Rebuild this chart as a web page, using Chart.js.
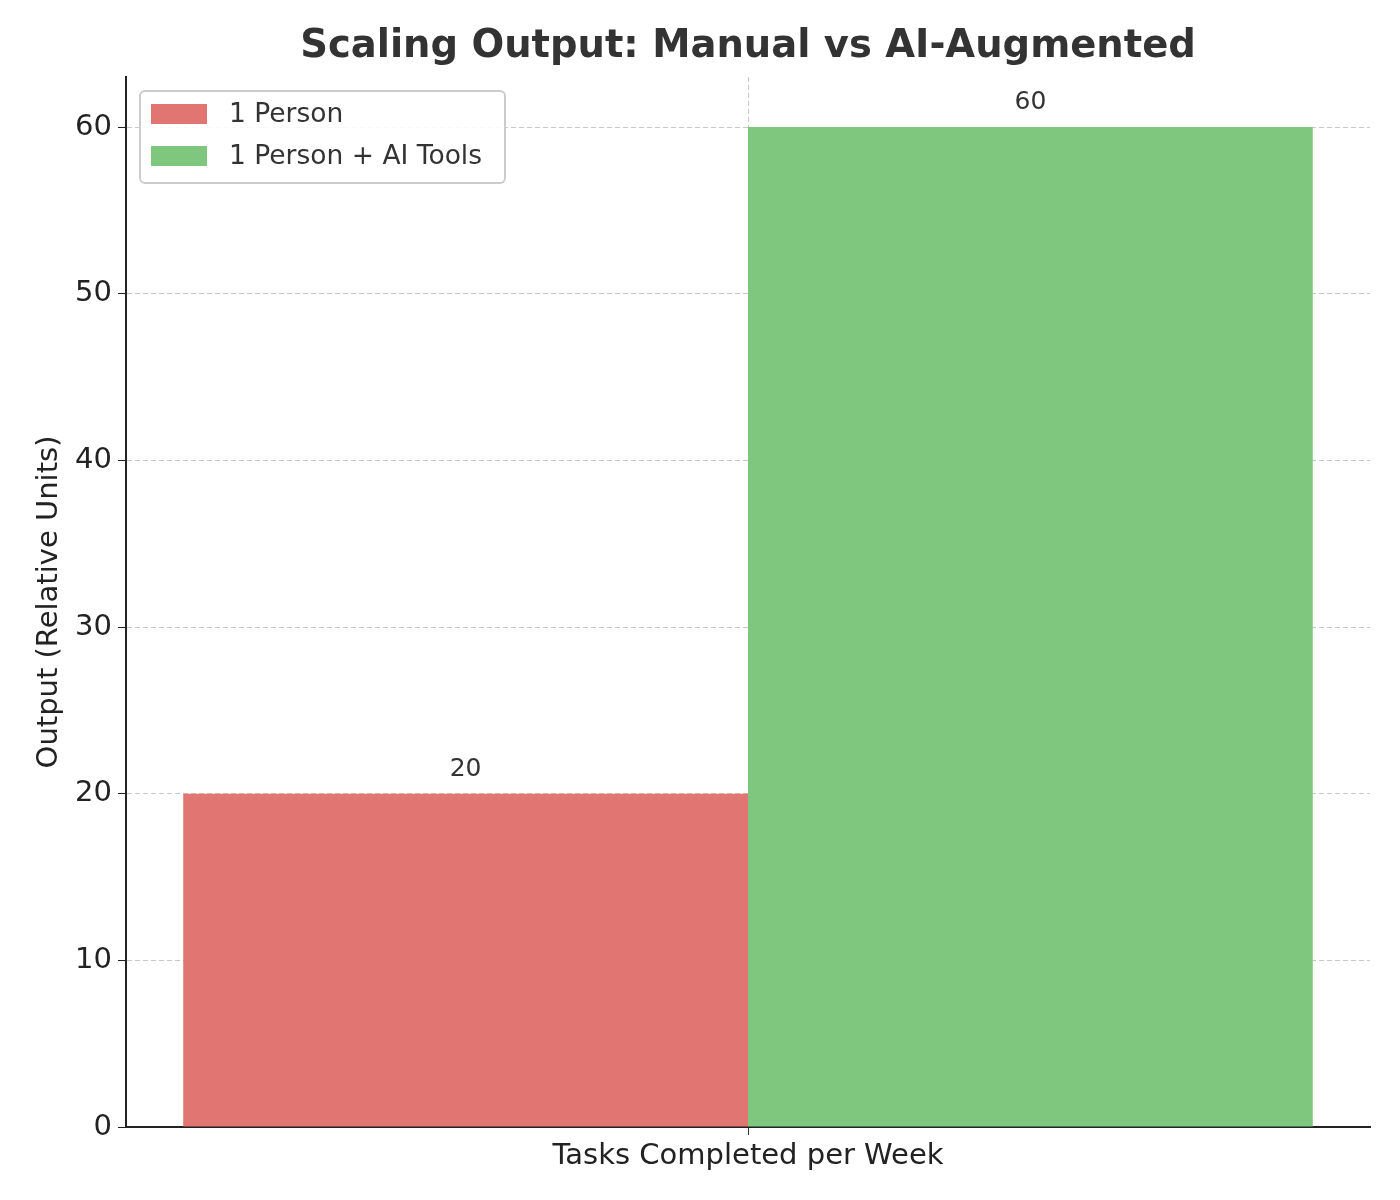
<!DOCTYPE html>
<html><head><meta charset="utf-8">
<script src="https://cdn.jsdelivr.net/npm/chart.js@4"></script>
<style>html,body{margin:0;padding:0;background:#fff}#w{width:1400px;height:1200px}</style>
</head><body><div id="w"><canvas id="c" width="1400" height="1200"></canvas></div>
<script>
const categories = ["Tasks Completed per Week"];
const seriesNames = ["1 Person", "1 Person + AI Tools"];
const manualValues = [20];
const aiValues = [60];
const yTicks = [0, 10, 20, 30, 40, 50, 60];
const colors = ["#e07571", "#7fc67e"];
const F = "'DejaVu Sans', sans-serif";

const extra = {
  id: 'extra',
  afterDatasetsDraw(chart) {
    const ctx = chart.ctx;
    ctx.save();
    ctx.font = "25px " + F; ctx.fillStyle = "#333"; ctx.textAlign = "center"; ctx.textBaseline = "bottom";
    chart.data.datasets.forEach((ds, i) => {
      chart.getDatasetMeta(i).data.forEach((el, j) => {
        ctx.fillText(String(ds.data[j]), el.x, el.y - 12);
      });
    });
    ctx.font = "bold 38.5px " + F; ctx.fillStyle = "#333"; ctx.textBaseline = "middle";
    ctx.fillText("Scaling Output: Manual vs AI-Augmented", (chart.chartArea.left + chart.chartArea.right) / 2, 47);
    const lx = 140, ly = 91, lw = 365, lh = 92;
    ctx.fillStyle = "rgba(255,255,255,0.85)"; ctx.strokeStyle = "#ccc"; ctx.lineWidth = 2;
    ctx.beginPath(); ctx.roundRect(lx, ly, lw, lh, 5); ctx.fill(); ctx.stroke();
    ctx.textAlign = "left"; ctx.font = "26.5px " + F;
    seriesNames.forEach((n, i) => {
      const y = 114 + i * 42;
      ctx.fillStyle = colors[i]; ctx.fillRect(151, y - 10, 56, 20);
      ctx.fillStyle = "#333"; ctx.fillText(n, 229, y + 1);
    });
    ctx.restore();
  }
};

new Chart(document.getElementById('c'), {
  type: 'bar',
  data: {
    labels: categories,
    datasets: [
      { label: seriesNames[0], data: manualValues, backgroundColor: colors[0], barPercentage: 1, categoryPercentage: 0.908 },
      { label: seriesNames[1], data: aiValues, backgroundColor: colors[1], barPercentage: 1, categoryPercentage: 0.908 }
    ]
  },
  options: {
    responsive: false, animation: false, devicePixelRatio: 1,
    layout: { padding: { top: 77, right: 30, left: 28, bottom: 26 } },
    plugins: { legend: { display: false }, title: { display: false }, tooltip: { enabled: false } },
    scales: {
      x: {
        afterFit: s => { s.height = 47; },
        grid: { offset: false, color: "#c8c8c8", tickColor: "#333", tickLength: 8, drawOnChartArea: true },
        border: { display: true, color: "#222", width: 2, dash: [5, 3] },
        ticks: { display: false },
        title: { display: true, text: categories[0], font: { family: F, size: 29 }, color: "#222", padding: { top: 0, bottom: 0 } }
      },
      y: {
        min: 0, max: 63,
        afterFit: s => { s.width = 98; },
        afterBuildTicks: s => { s.ticks = yTicks.map(v => ({ value: v })); },
        grid: { color: "#c8c8c8", tickColor: "#222", tickLength: 8 },
        border: { display: true, color: "#222", width: 2, dash: [5, 3] },
        ticks: { font: { family: F, size: 29 }, color: "#222", padding: 6 },
        title: { display: true, text: "Output (Relative Units)", font: { family: F, size: 29 }, color: "#222" }
      }
    }
  },
  plugins: [extra]
});
</script></body></html>
